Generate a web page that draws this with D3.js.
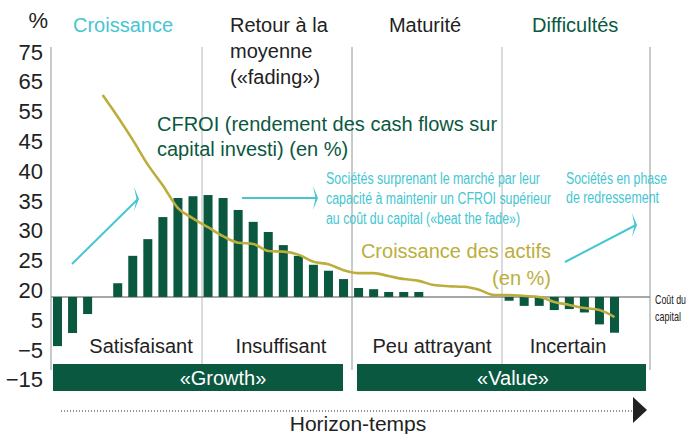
<!DOCTYPE html>
<html>
<head>
<meta charset="utf-8">
<script src="https://cdn.jsdelivr.net/npm/d3@7"></script>
<style>
  body { margin: 0; background: #fff; }
  text { font-family: "Liberation Sans", Arial, sans-serif; }
</style>
</head>
<body>
<svg id="chart" width="687" height="434"></svg>
<script>
// axis labels (the scale is not linear: each label is one step)
const yTicks = [75, 65, 55, 45, 40, 35, 30, 25, 20, 5, -5, -15];

// CFROI bars, one per company slot (null = no bar)
const cfroiBars = [-3.7, 0.7, 8.1, null, 21.2, 25.8, 28.6, 32.3, 35.5, 35.8,
  36.0, 35.5, 33.5, 31.5, 29.8, 27.6, 25.8, 24.3, 23.3, 21.9,
  20.4, 20.2, 19.2, 19.2, 19.2, null, null, null, null, null,
  14.8, 12.2, 12.2, 10.1, 10.6, 8.9, 3.6, 0.8];

// asset growth line (en %)
const assetGrowth = [null, null, null, 60.6, 53.3, 45.5, 41.1, 37.6, 33.8, 32.1,
  30.6, 29.1, 28.0, 27.8, 26.6, 26.5, 26.0, 24.8, 24.4, 23.4,
  22.9, 22.9, 22.4, 21.9, 21.6, 20.9, 20.7, 20.6, 20.1, 17.7,
  17.7, 17.2, 16.7, 14.2, 12.7, 11.1, 10.1, 6.6];

const costOfCapital = 16.7;

const verdicts = ["Satisfaisant", "Insuffisant", "Peu attrayant", "Incertain"];
const styles = ["«Growth»", "«Value»"];

const green = "#0a5840", cyan = "#45c6d2", gold = "#bbae3d", ink = "#222";

const svg = d3.select("#chart");
svg.append("defs").append("marker")
    .attr("id", "head")
    .attr("markerUnits", "userSpaceOnUse")
    .attr("viewBox", "-6 -13 8 26")
    .attr("markerWidth", 8).attr("markerHeight", 26)
    .attr("refX", 0).attr("refY", 0)
    .attr("orient", "0")
  .append("path")
    .attr("d", "M1,0 L-4,-12 L-1.5,0 L-4,12 Z")
    .attr("fill", cyan);

const slots = d3.range(cfroiBars.length);
const x = d3.scalePoint().domain(slots).range([57.5, 614.5]);
const y = d3.scaleLinear().domain(yTicks).range(yTicks.map((d, i) => 52 + i * 29.8));
const barW = 9;

// phase dividers
const dividers = [51, 202, 352, 502, 650];
svg.selectAll(".divider")
  .data(dividers)
  .enter().append("line")
    .attr("class", "divider")
    .attr("x1", d => d).attr("x2", d => d)
    .attr("y1", 47).attr("y2", 370)
    .attr("stroke", (d, i) => i % 2 ? "#b3b8b6" : "#8c9894")
    .attr("stroke-width", 1);

// y axis labels
svg.append("g")
    .attr("transform", "translate(51,0)")
    .call(d3.axisLeft(y).tickValues(yTicks).tickSize(0).tickPadding(8))
    .call(g => g.select(".domain").remove())
    .call(g => g.selectAll("text")
        .attr("font-size", 22)
        .attr("font-family", "Liberation Sans, Arial, sans-serif")
        .attr("fill", ink));

svg.append("text").attr("x", 48).attr("y", 28)
    .attr("text-anchor", "end").attr("font-size", 22).attr("fill", ink).text("%");

// cost of capital line
svg.append("line")
    .attr("x1", 51).attr("x2", 650)
    .attr("y1", y(costOfCapital)).attr("y2", y(costOfCapital))
    .attr("stroke", "#8a8a8a").attr("stroke-width", 1.5);

// bars
svg.selectAll(".bar")
  .data(slots.filter(i => cfroiBars[i] !== null))
  .enter().append("rect")
    .attr("class", "bar")
    .attr("x", i => x(i) - barW / 2)
    .attr("width", barW)
    .attr("y", i => Math.min(y(cfroiBars[i]), y(costOfCapital)))
    .attr("height", i => Math.abs(y(cfroiBars[i]) - y(costOfCapital)))
    .attr("fill", green);

// asset growth line
const line = d3.line()
    .defined(i => assetGrowth[i] !== null)
    .x(i => x(i))
    .y(i => y(assetGrowth[i]))
    .curve(d3.curveMonotoneX);

svg.append("path")
    .datum(slots)
    .attr("d", line)
    .attr("fill", "none")
    .attr("stroke", gold)
    .attr("stroke-width", 2.6);

// phase titles
const labels = svg.append("g").attr("font-size", 20);
labels.append("text").attr("x", 73).attr("y", 32).attr("fill", cyan).text("Croissance");
labels.append("text").attr("x", 230).attr("y", 32).attr("fill", ink).text("Retour à la");
labels.append("text").attr("x", 230).attr("y", 58).attr("fill", ink).text("moyenne");
labels.append("text").attr("x", 230).attr("y", 84).attr("fill", ink).text("(«fading»)");
labels.append("text").attr("x", 425).attr("y", 32).attr("text-anchor", "middle").attr("fill", ink).text("Maturité");
labels.append("text").attr("x", 532).attr("y", 32).attr("fill", green).text("Difficultés");

// series labels
labels.append("text").attr("x", 157).attr("y", 131).attr("fill", green).text("CFROI (rendement des cash flows sur");
labels.append("text").attr("x", 157).attr("y", 156).attr("fill", green).text("capital investi) (en %)");
labels.append("text").attr("x", 551).attr("y", 258).attr("text-anchor", "end").attr("fill", gold).text("Croissance des actifs");
labels.append("text").attr("x", 551).attr("y", 285).attr("text-anchor", "end").attr("fill", gold).text("(en %)");

// condensed notes: [text, x, baseline, width]
const notes = [
  ["Sociétés surprenant le marché par leur", 326, 184, 214],
  ["capacité à maintenir un CFROI supérieur", 326, 204, 225],
  ["au coût du capital («beat the fade»)", 326, 224, 194],
  ["Sociétés en phase", 566, 184, 101],
  ["de redressement", 566, 203, 93]
];
svg.selectAll(".note")
  .data(notes)
  .enter().append("text")
    .attr("class", "note")
    .attr("x", d => d[1]).attr("y", d => d[2])
    .attr("textLength", d => d[3])
    .attr("lengthAdjust", "spacingAndGlyphs")
    .attr("font-size", 16).attr("fill", cyan)
    .text(d => d[0]);

const coc = [["Coût du", 304, 31], ["capital", 321, 26]];
svg.selectAll(".coc")
  .data(coc)
  .enter().append("text")
    .attr("class", "coc")
    .attr("x", 655).attr("y", d => d[1])
    .attr("textLength", d => d[2])
    .attr("lengthAdjust", "spacingAndGlyphs")
    .attr("font-size", 13).attr("fill", ink)
    .text(d => d[0]);

// arrows
const arrows = [[72, 264, 138, 199], [242, 198, 317, 198], [565, 262, 636, 225]];
svg.selectAll(".arrow")
  .data(arrows)
  .enter().append("line")
    .attr("class", "arrow")
    .attr("x1", d => d[0]).attr("y1", d => d[1])
    .attr("x2", d => d[2]).attr("y2", d => d[3])
    .attr("stroke", cyan).attr("stroke-width", 2)
    .attr("marker-end", "url(#head)");

// verdicts under the bars
const verdictX = [141, 281, 432, 568];
svg.selectAll(".verdict")
  .data(verdicts)
  .enter().append("text")
    .attr("x", (d, i) => verdictX[i]).attr("y", 353)
    .attr("text-anchor", "middle")
    .attr("font-size", 20).attr("fill", ink)
    .text(d => d);

// style banners
const banners = [[53, 343, 223], [357, 646, 513]];
banners.forEach((b, i) => {
  svg.append("rect").attr("x", b[0]).attr("y", 364)
      .attr("width", b[1] - b[0]).attr("height", 27).attr("fill", green);
  svg.append("text").attr("x", b[2]).attr("y", 385)
      .attr("text-anchor", "middle").attr("font-size", 20).attr("fill", "#fff")
      .text(styles[i]);
});

// time axis
svg.append("line").attr("x1", 61).attr("x2", 634).attr("y1", 411).attr("y2", 411)
    .attr("stroke", ink).attr("stroke-width", 1).attr("stroke-dasharray", "1,2");
svg.append("path").attr("d", "M633,397 L647,410 L633,423 Z").attr("fill", ink);
svg.append("text").attr("x", 358).attr("y", 431).attr("text-anchor", "middle")
    .attr("font-size", 21).attr("fill", ink).text("Horizon-temps");
</script>
</body>
</html>
